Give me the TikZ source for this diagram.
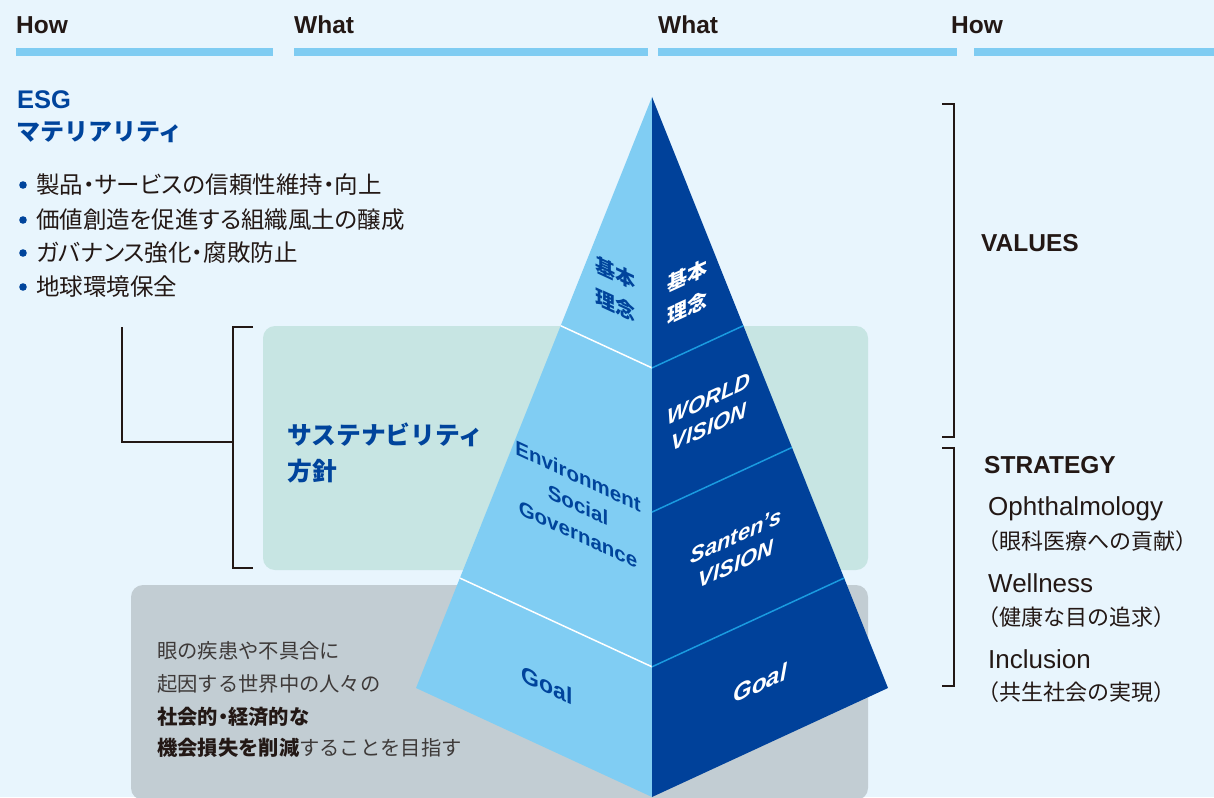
\documentclass[tikz,border=0pt]{standalone}
\usepackage{fontspec}
\setmainfont{Liberation Sans}
\newfontfamily\jp{Noto Sans CJK JP}
\newfontfamily\jpp[RawFeature=+palt]{Noto Sans CJK JP}
\usetikzlibrary{calc}
\definecolor{bg}{HTML}{E8F5FD}
\definecolor{barblue}{HTML}{7FCCF2}
\definecolor{pleft}{HTML}{80CDF3}
\definecolor{pright}{HTML}{00419A}
\definecolor{divblue}{HTML}{1A9BE0}
\definecolor{greenbox}{HTML}{C7E5E3}
\definecolor{graybox}{HTML}{C2CDD3}
\definecolor{ink}{HTML}{231815}
\definecolor{grayink}{HTML}{3E3A39}
\definecolor{tblue}{HTML}{00449C}
\tikzset{
  txt/.style={inner sep=0pt, anchor=west},
  hdr/.style={txt, text=ink, font=\fontsize{24.5}{28}\selectfont\bfseries},
  bluehead/.style={txt, text=tblue, font=\jp\fontsize{24}{30}\selectfont\bfseries},
  bullettext/.style={txt, text=ink, font=\jpp\fontsize{23.5}{28}\selectfont},
  graytext/.style={txt, text=grayink, font=\jp\fontsize{20.3}{26}\selectfont},
  rlabel/.style={txt, text=ink, font=\fontsize{24.5}{28}\selectfont\bfseries},
  rtext/.style={txt, text=ink, font=\fontsize{26}{30}\selectfont},
  rjp/.style={txt, text=ink, font=\jp\fontsize{22}{26}\selectfont},
  lface/.style={inner sep=0pt, align=center, text=tblue, yslant=-0.46},
  rface/.style={inner sep=0pt, align=center, text=white, yslant=0.46},
  bracket/.style={draw=ink, line width=1.2pt},
  wline/.style={draw=white, line width=1.5pt},
  bline/.style={draw=divblue, line width=1.5pt},
}
\begin{document}
\begin{tikzpicture}[x=1pt,y=-1pt]
\useasboundingbox (0,0) rectangle (1214,797);
\fill[bg] (0,0) rectangle (1214,797);
% header
\fill[barblue] (16,48) rectangle (273,56);
\fill[barblue] (294,48) rectangle (648,56);
\fill[barblue] (658,48) rectangle (957,56);
\fill[barblue] (974,48) rectangle (1214,56);
\node[hdr] (h1) at (16,25) {How};
\node[hdr] (h2) at (294,25) {What};
\node[hdr] (h3) at (658,25) {What};
\node[hdr] (h4) at (951,25) {How};
% boxes
\fill[greenbox, rounded corners=12pt] (263,326) rectangle (868,570);
\fill[graybox, rounded corners=12pt] (131,585) rectangle (868,800);
% pyramid
\coordinate (A) at (652,97);
\coordinate (L) at (416,688);
\coordinate (B) at (652,797);
\coordinate (R) at (888,688);
\fill[pleft] (A) -- (L) -- (B) -- cycle;
\fill[pright] (A) -- (R) -- (B) -- cycle;
\coordinate (c1) at ($(A)!0.387!(B)$);
\coordinate (l1) at ($(A)!0.387!(L)$);
\coordinate (r1) at ($(A)!0.387!(R)$);
\coordinate (c2) at ($(A)!0.593!(B)$);
\coordinate (r2) at ($(A)!0.593!(R)$);
\coordinate (c3) at ($(A)!0.814!(B)$);
\coordinate (l3) at ($(A)!0.814!(L)$);
\coordinate (r3) at ($(A)!0.814!(R)$);
\draw[wline] (l1) -- (c1);
\draw[bline] (c1) -- (r1);
\draw[bline] (c2) -- (r2);
\draw[wline] (l3) -- (c3);
\draw[bline] (c3) -- (r3);
% pyramid labels
\node[lface, font=\jp\fontsize{20}{32}\selectfont\bfseries] (kl) at (615,289) {基本\\理念};
\node[rface, font=\jp\fontsize{20}{32}\selectfont\bfseries] (kr) at (687,292) {基本\\理念};
\node[rface, font=\fontsize{22}{28}\selectfont\bfseries\itshape] (wv) at (709,413) {WORLD\\VISION};
\node[lface, font=\fontsize{20.5}{29}\selectfont\bfseries] (esg) at (578,505) {Environment\\Social\\Governance};
\node[rface, font=\fontsize{22}{28}\selectfont\bfseries\itshape] (sv) at (736,550) {Santen’s\\VISION};
\node[lface, font=\fontsize{23}{28}\selectfont\bfseries] (gl) at (547,685) {Goal};
\node[rface, font=\fontsize{24}{28}\selectfont\bfseries\itshape] (gr) at (760,683) {Goal};
% left texts
\node[txt, text=tblue, font=\fontsize{25.5}{28}\selectfont\bfseries] (esgt) at (17,100) {ESG};
\node[bluehead] (mat) at (16,132) {マテリアリティ};
\foreach \yy/\tt [count=\i] in {185/製品・サービスの信頼性維持・向上, 220/価値創造を促進する組織風土の醸成, 253/ガバナンス強化・腐敗防止, 287/地球環境保全}{
  \fill[tblue] (23,\yy) circle (3.8pt);
  \node[bullettext] (b\i) at (36,\yy) {\tt};
}
\node[txt, text=tblue, font=\jp\fontsize{24.8}{36}\selectfont\bfseries, align=left] (sus) at (287,453) {サステナビリティ\\方針};
% gray box text
\node[graytext] (g1) at (157,651) {眼の疾患や不具合に};
\node[graytext] (g2) at (157,684) {起因する世界中の人々の};
\node[graytext, text=ink, font=\jpp\fontsize{20.3}{26}\selectfont\bfseries] (g3) at (157,717) {社会的・経済的な};
\node[graytext] (g4) at (157,748) {{\bfseries\color{ink}機会損失を削減}することを目指す};
% left connector and bracket
\coordinate (s1) at (122,327);
\coordinate (s2) at (233,442);
\draw[bracket] (s1) |- (s2);
\coordinate (bt) at (253,327);
\coordinate (bb) at (253,568);
\draw[bracket] (bt) -- ++(-20,0) |- (bb);
% right brackets
\coordinate (v1) at (942,104);
\coordinate (v2) at (942,437);
\draw[bracket] (v1) -- ++(12,0) |- (v2);
\coordinate (t1) at (942,448);
\coordinate (t2) at (942,686);
\draw[bracket] (t1) -- ++(12,0) |- (t2);
% right texts
\node[rlabel] (val) at (981,243) {VALUES};
\node[rlabel] (str) at (984,465) {STRATEGY};
\node[rtext] (oph) at (988,509) {Ophthalmology};
\node[rjp] (ophj) at (977,541) {（眼科医療への貢献）};
\node[rtext] (wel) at (988,583) {Wellness};
\node[rjp] (welj) at (977,617) {（健康な目の追求）};
\node[rtext] (inc) at (988,659) {Inclusion};
\node[rjp] (incj) at (977,692) {（共生社会の実現）};
\end{tikzpicture}
\end{document}
